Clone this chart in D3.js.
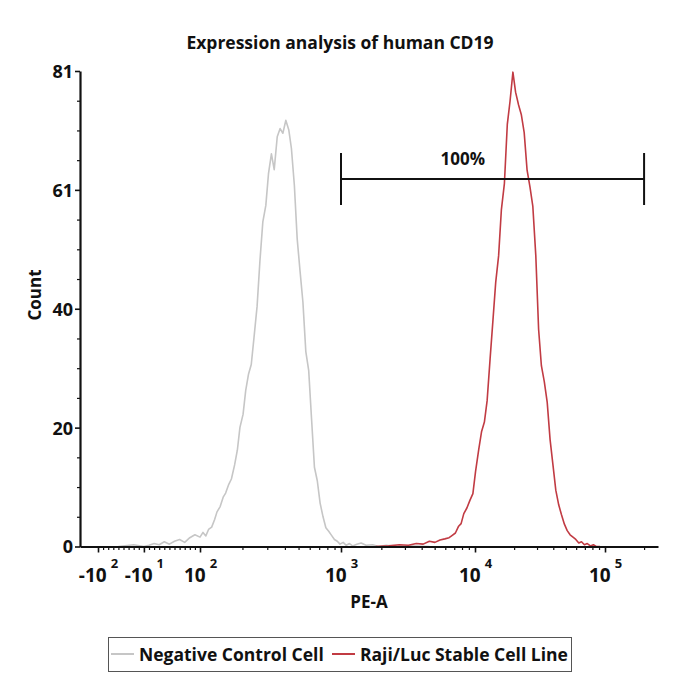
<!DOCTYPE html>
<html>
<head>
<meta charset="utf-8">
<script src="https://cdn.jsdelivr.net/npm/d3@7"></script>
<style>
  html, body { margin: 0; padding: 0; background: #fff; }
  svg text { font-family: "Open Sans", sans-serif; font-weight: 700; fill: #111; }
</style>
</head>
<body>
<svg id="chart" width="700" height="700"></svg>
<script>
/* ================================
   DATA
================================ */

const title = "Expression analysis of human CD19";
const xTitle = "PE-A";
const yTitle = "Count";

// Negative control histogram (PE-A intensity, count)
const negX = [-60, -30, -10, 0, 10, 20, 30, 40, 50, 60, 70, 80, 90, 100,
  105, 110, 115, 121, 127, 132, 139, 146, 152, 160, 167, 176, 184, 192, 202, 211,
  221, 231, 242, 254, 266, 279, 293, 306, 321, 336, 353, 370, 387, 406, 426, 445,
  467, 489, 512, 537, 563, 590, 618, 648, 679, 711, 745, 781, 818, 857, 898, 941,
  984, 1038, 1094, 1157, 1221, 1312, 1413, 1539, 1721, 1905, 2178, 2547, 3189, 4567];
const negCount = [0, 0.3, 0, 0.2, 0.5, 0.3, 0.8, 0.4, 0.9, 1.2, 0.7, 1.5, 2.0, 1.6,
  2.4, 1.8, 2.9, 3.3, 4.6, 5.9, 6.8, 8.4, 9.1, 10.6, 11.5, 13.9, 16.4, 20.3, 22.5, 26.6,
  29.4, 31.0, 35.8, 40.9, 48.6, 55.3, 58.1, 63.5, 66.9, 64.2, 69.8, 71.2, 70.4, 72.6, 71.0, 67.8,
  61.5, 52.4, 47.0, 41.6, 33.2, 30.0, 21.8, 13.5, 11.2, 7.4, 5.1, 3.2, 2.6, 1.9, 1.2, 0.9,
  0.4, 0.7, 0.2, 0.5, 0.1, 0.4, 0.6, 0.2, 0.3, 0, 0.2, 0, 0.1, 0];

// Raji/Luc stable cell line histogram
const posX = [1812, 2270, 2728, 3184, 3647, 4106, 4567, 5021, 5481, 5952, 6408, 6769,
  7140, 7517, 7877, 8250, 8716, 9178, 9645, 10100, 10680, 11240, 11810, 12390,
  13070, 13750, 14430, 15190, 15960, 16830, 17720, 18590, 19570, 20520, 21640, 22700,
  23900, 25160, 26490, 27840, 29350, 30850, 32410, 34120, 35920, 37810, 39740, 41830,
  44040, 46280, 48720, 51200, 53890, 56730, 59620, 62870, 65950, 69420, 73080, 77210,
  81430, 85410, 91680];
const posCount = [0, 0.1, 0.3, 0.2, 0.5, 0.4, 0.9, 0.7, 1.1, 1.3, 1.5, 1.9,
  2.3, 3.4, 3.9, 5.6, 6.6, 7.9, 9.0, 12.8, 16.5, 19.6, 21.2, 24.8,
  32.0, 38.6, 45.0, 49.5, 57.4, 61.8, 71.9, 75.8, 80.8, 77.4, 75.2, 73.6,
  70.5, 64.1, 61.2, 58.0, 49.6, 37.0, 30.8, 28.1, 24.6, 18.2, 14.0, 9.6,
  7.1, 5.4, 3.8, 2.7, 2.0, 1.6, 1.2, 0.6, 0.8, 0.3, 0.5, 0.1,
  0.3, 0, 0];

const seriesNames = ["Negative Control Cell", "Raji/Luc Stable Cell Line"];
const seriesColors = ["#c6c6c6", "#c13b43"];

// axes
const yTicks = [0, 20.25, 40.5, 60.75, 81];
const yTickLabels = ["0", "20", "40", "61", "81"];
const xTicks = [-100, -10, 100, 1000, 10000, 100000];
const xTickBase = ["-10", "-10", "10", "10", "10", "10"];
const xTickExp = ["2", "1", "2", "3", "4", "5"];
const xDomain = [-138, 256000];
const yDomain = [0, 81];

// gate
const gateRange = [1000, 200000];
const gateCount = 62.6;
const gateLabel = "100%";
const gateLabelAt = 8100;

/* ================================
   SCALES
================================ */

// biexponential-like display: linear around zero, log above |100|
const LIN = 100, LIN_DEC = 51 / 135;
function biex(v) {
  const a = Math.abs(v);
  const t = a <= LIN ? a / LIN * LIN_DEC : LIN_DEC + Math.log10(a / LIN);
  return v < 0 ? -t : t;
}

const svg = d3.select("#chart");
const plotTop = 71, plotBottom = 546.5;

// decades are not quite equal width on this instrument axis
const xs = d3.scaleLinear()
  .domain([xDomain[0], -100, 100, 1000, 10000, 100000, xDomain[1]].map(biex))
  .range([80, 98, 200, 341, 475, 605, 658]);
const X = v => xs(biex(v));
const y = d3.scaleLinear().domain(yDomain).range([plotBottom, plotTop]);
const plotLeft = X(xDomain[0]), plotRight = X(xDomain[1]);

/* ================================
   CURVES
================================ */

const line = d3.line()
  .x(d => X(d[0]))
  .y(d => y(d[1]));

[[negX, negCount], [posX, posCount]].forEach((s, i) => {
  svg.append("path")
    .datum(d3.zip(s[0], s[1]))
    .attr("d", line)
    .attr("fill", "none")
    .attr("stroke", seriesColors[i])
    .attr("stroke-width", 1.6)
    .attr("stroke-linejoin", "round");
});

/* ================================
   AXES
================================ */

// y minor ticks
const yMinor = [];
for (let i = 0; i < yTicks.length - 1; i++) {
  const step = (yTicks[i + 1] - yTicks[i]) / 4;
  for (let k = 1; k < 4; k++) yMinor.push(yTicks[i] + k * step);
}

svg.append("g")
  .attr("transform", `translate(${plotLeft},0)`)
  .call(d3.axisLeft(y).tickValues(yMinor).tickSize(3).tickFormat(""))
  .call(g => g.select(".domain").remove())
  .selectAll("line").attr("stroke", "#111").attr("stroke-width", 1.2);

const yAxis = svg.append("g")
  .attr("transform", `translate(${plotLeft},0)`)
  .call(d3.axisLeft(y).tickValues(yTicks).tickSize(5).tickSizeOuter(0)
    .tickFormat((d, i) => yTickLabels[i]));
yAxis.select(".domain").attr("stroke", "#111").attr("stroke-width", 2.2);
yAxis.selectAll("line").attr("stroke", "#111").attr("stroke-width", 1.6);
yAxis.selectAll("text")
  .style("font-size", "18px")
  .attr("x", -7)
  .attr("dy", "0.36em");

// x minor ticks
const xMinor = [];
for (let v = -90; v <= 90; v += 10) if (v !== -10) xMinor.push(v);
[100, 1000, 10000, 100000].forEach(d => {
  for (let k = 2; k <= 9; k++) if (d * k < xDomain[1]) xMinor.push(d * k);
});

svg.append("g")
  .attr("transform", `translate(0,${plotBottom})`)
  .call(d3.axisBottom(xs).tickValues(xMinor.map(biex)).tickSize(3.5).tickFormat(""))
  .call(g => g.select(".domain").remove())
  .selectAll("line").attr("stroke", "#111").attr("stroke-width", 1.2);

const xAxis = svg.append("g")
  .attr("transform", `translate(0,${plotBottom})`)
  .call(d3.axisBottom(xs).tickValues(xTicks.map(biex)).tickSize(6).tickSizeOuter(0).tickFormat(""));
xAxis.select(".domain").attr("stroke", "#111").attr("stroke-width", 2.2);
xAxis.selectAll("line").attr("stroke", "#111").attr("stroke-width", 1.6);

xAxis.selectAll(".tick").each(function(d, i) {
  const t = d3.select(this).append("text")
    .attr("y", 35)
    .attr("text-anchor", "middle")
    .style("font-size", "19px");
  t.append("tspan").text(xTickBase[i]);
  t.append("tspan")
    .attr("dx", 4)
    .attr("dy", -14)
    .style("font-size", "13px")
    .text(xTickExp[i]);
});

svg.append("text")
  .attr("x", (plotLeft + plotRight) / 2)
  .attr("y", 608)
  .attr("text-anchor", "middle")
  .style("font-size", "17px")
  .text(xTitle);

svg.append("text")
  .attr("transform", "translate(41,295) rotate(-90)")
  .attr("text-anchor", "middle")
  .style("font-size", "17px")
  .text(yTitle);

svg.append("text")
  .attr("x", 340)
  .attr("y", 49)
  .attr("text-anchor", "middle")
  .style("font-size", "17.5px")
  .text(title);

/* ================================
   GATE
================================ */

const gy = y(gateCount);
const gate = svg.append("g").attr("stroke", "#111").attr("stroke-width", 2);
gate.append("line").attr("x1", X(gateRange[0])).attr("x2", X(gateRange[1])).attr("y1", gy).attr("y2", gy);
gateRange.forEach(v => {
  gate.append("line").attr("x1", X(v)).attr("x2", X(v)).attr("y1", gy - 26).attr("y2", gy + 26);
});
svg.append("text")
  .attr("x", X(gateLabelAt))
  .attr("y", gy - 14)
  .attr("text-anchor", "middle")
  .style("font-size", "17px")
  .text(gateLabel);

/* ================================
   LEGEND
================================ */

const legend = svg.append("g");
legend.append("rect")
  .attr("x", 108.5).attr("y", 637.5)
  .attr("width", 463).attr("height", 34)
  .attr("fill", "#fff").attr("stroke", "#555").attr("stroke-width", 1);

const legendItems = [{ x: 111 }, { x: 332 }];
legendItems.forEach((it, i) => {
  legend.append("line")
    .attr("x1", it.x).attr("x2", it.x + 23)
    .attr("y1", 654).attr("y2", 654)
    .attr("stroke", seriesColors[i]).attr("stroke-width", 2);
  legend.append("text")
    .attr("x", it.x + 28)
    .attr("y", 661)
    .style("font-size", "17.5px")
    .text(seriesNames[i]);
});
</script>
</body>
</html>
